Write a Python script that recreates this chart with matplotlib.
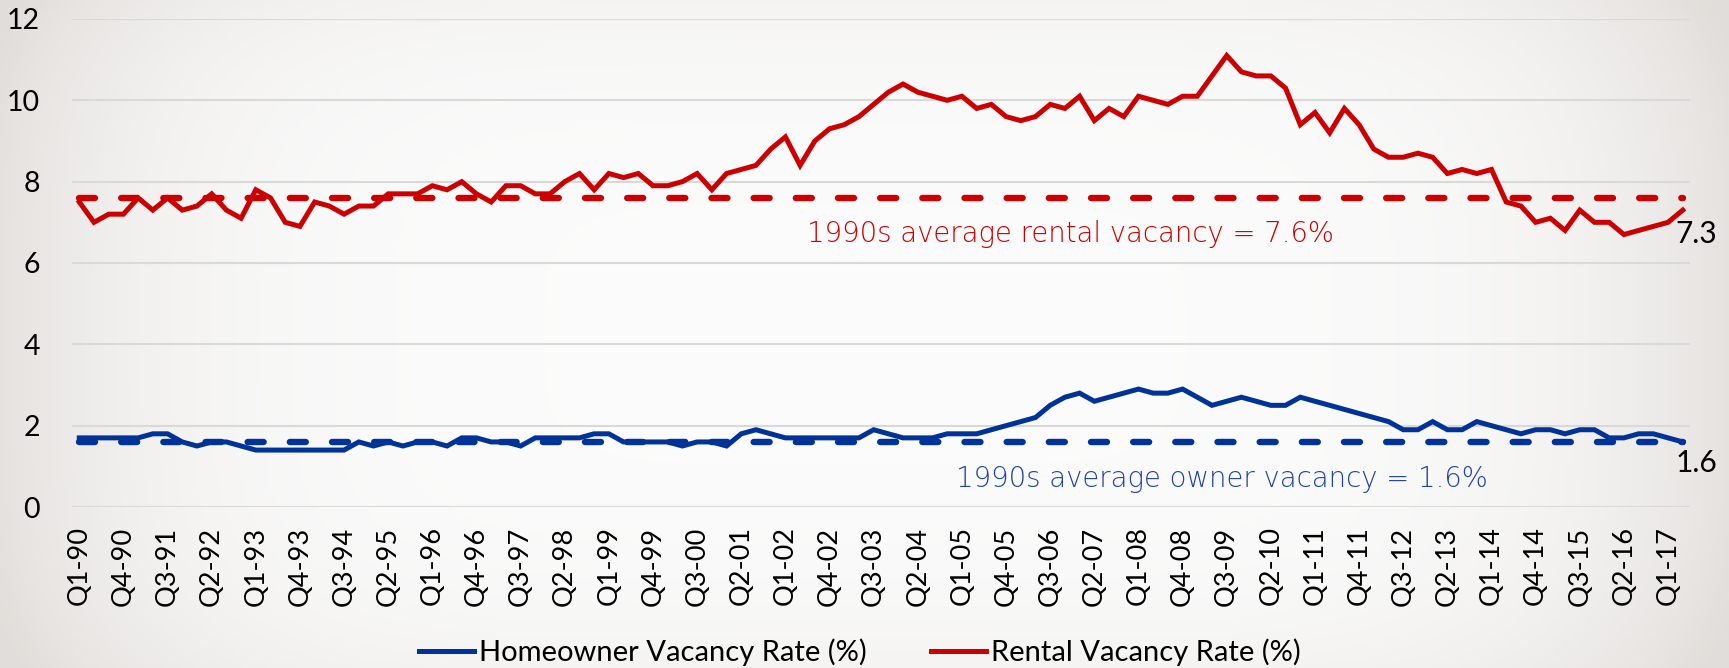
import numpy as np
import matplotlib.pyplot as plt

# quarterly categories Q1-90 .. Q2-17
quarters = [f"Q{q}-{y % 100:02d}" for y in range(1990, 2018) for q in range(1, 5)][:110]

rental = [
    7.5, 7.0, 7.2, 7.2,  7.6, 7.3, 7.6, 7.3,  7.4, 7.7, 7.3, 7.1,  7.8, 7.6, 7.0, 6.9,
    7.5, 7.4, 7.2, 7.4,  7.4, 7.7, 7.7, 7.7,  7.9, 7.8, 8.0, 7.7,  7.5, 7.9, 7.9, 7.7,
    7.7, 8.0, 8.2, 7.8,  8.2, 8.1, 8.2, 7.9,  7.9, 8.0, 8.2, 7.8,  8.2, 8.3, 8.4, 8.8,
    9.1, 8.4, 9.0, 9.3,  9.4, 9.6, 9.9, 10.2, 10.4, 10.2, 10.1, 10.0, 10.1, 9.8, 9.9, 9.6,
    9.5, 9.6, 9.9, 9.8,  10.1, 9.5, 9.8, 9.6, 10.1, 10.0, 9.9, 10.1, 10.1, 10.6, 11.1, 10.7,
    10.6, 10.6, 10.3, 9.4, 9.7, 9.2, 9.8, 9.4, 8.8, 8.6, 8.6, 8.7,  8.6, 8.2, 8.3, 8.2,
    8.3, 7.5, 7.4, 7.0,  7.1, 6.8, 7.3, 7.0,  7.0, 6.7, 6.8, 6.9,  7.0, 7.3,
]
homeowner = [
    1.7, 1.7, 1.7, 1.7,  1.7, 1.8, 1.8, 1.6,  1.5, 1.6, 1.6, 1.5,  1.4, 1.4, 1.4, 1.4,
    1.4, 1.4, 1.4, 1.6,  1.5, 1.6, 1.5, 1.6,  1.6, 1.5, 1.7, 1.7,  1.6, 1.6, 1.5, 1.7,
    1.7, 1.7, 1.7, 1.8,  1.8, 1.6, 1.6, 1.6,  1.6, 1.5, 1.6, 1.6,  1.5, 1.8, 1.9, 1.8,
    1.7, 1.7, 1.7, 1.7,  1.7, 1.7, 1.9, 1.8,  1.7, 1.7, 1.7, 1.8,  1.8, 1.8, 1.9, 2.0,
    2.1, 2.2, 2.5, 2.7,  2.8, 2.6, 2.7, 2.8,  2.9, 2.8, 2.8, 2.9,  2.7, 2.5, 2.6, 2.7,
    2.6, 2.5, 2.5, 2.7,  2.6, 2.5, 2.4, 2.3,  2.2, 2.1, 1.9, 1.9,  2.1, 1.9, 1.9, 2.1,
    2.0, 1.9, 1.8, 1.9,  1.9, 1.8, 1.9, 1.9,  1.7, 1.7, 1.8, 1.8,  1.7, 1.6,
]
rental_avg_1990s = 7.6
owner_avg_1990s = 1.6

RED = "#cc0000"
BLUE = "#003399"

fig = plt.figure(figsize=(17.29, 6.68), dpi=100)

# soft grey vignette background
bg = fig.add_axes([0, 0, 1, 1], zorder=-10)
gx, gy = np.meshgrid(np.linspace(-1, 1, 500), np.linspace(-1, 1, 200))
shade = np.clip(0.85 * np.abs(gx) ** 5 + 0.25 * np.abs(gy) ** 4, 0, 1)
center = np.array([0.985, 0.985, 0.985])
edge = np.array([0.885, 0.87, 0.855])
img = center[None, None, :] * (1 - shade[..., None]) + edge[None, None, :] * shade[..., None]
bg.imshow(img, aspect="auto", extent=(0, 1, 0, 1))
bg.axis("off")

ax = fig.add_axes([0.0416, 0.241, 0.9359, 0.7306])
ax.set_facecolor("none")
x = np.arange(len(quarters))

ax.plot(x, homeowner, color=BLUE, lw=3.6, solid_joinstyle="miter", label="Homeowner Vacancy Rate (%)", zorder=4)
ax.plot(x, rental, color=RED, lw=3.6, solid_joinstyle="miter", label="Rental Vacancy Rate (%)", zorder=4)
ax.plot(x, [rental_avg_1990s] * len(x), color=RED, lw=4.6, dashes=(2.5, 4.1),
        dash_capstyle="round", zorder=3)
ax.plot(x, [owner_avg_1990s] * len(x), color=BLUE, lw=4.6, dashes=(2.5, 4.1),
        dash_capstyle="round", zorder=3)

ax.set_xlim(-0.5, len(x) - 0.5)
ax.set_ylim(0, 12)
ax.set_yticks(range(0, 13, 2))
ax.set_xticks(x[::3])
ax.set_xticklabels(quarters[::3], rotation=90, fontsize=19.5, family="Lato")
ax.tick_params(axis="x", length=0, pad=14)
ax.tick_params(axis="y", length=0, pad=23, labelsize=20.5)
for lab in ax.get_yticklabels():
    lab.set_family("Lato")
ax.grid(axis="y", color="#d9d9d9", lw=1.5)
ax.set_axisbelow(True)
for s in ax.spines.values():
    s.set_visible(False)

ax.text(67.4, 6.52, f"1990s average rental vacancy = {rental_avg_1990s}%", color=RED,
        fontsize=19.8, family="DejaVu Sans", fontweight=200, ha="center", va="baseline")
ax.text(77.7, 0.49, f"1990s average owner vacancy = {owner_avg_1990s}%", color="#1f44a8",
        fontsize=19.8, family="DejaVu Sans", fontweight=200, ha="center", va="baseline")

ax.annotate(f"{rental[-1]}", (x[-1], rental[-1]), xytext=(-5, -24), textcoords="offset points",
            fontsize=21.5, family="Lato", ha="left", va="baseline", color="black")
ax.annotate(f"{homeowner[-1]}", (x[-1], homeowner[-1]), xytext=(-5, -22), textcoords="offset points",
            fontsize=21.5, family="Lato", ha="left", va="baseline", color="black")

fig.legend(loc="center", bbox_to_anchor=(0.4974, 0.0235), ncol=2, frameon=False,
           prop={"family": "Lato", "size": 21}, handlelength=1.88, handletextpad=0.17,
           columnspacing=2.2)

fig.savefig("out.png", dpi=100)
